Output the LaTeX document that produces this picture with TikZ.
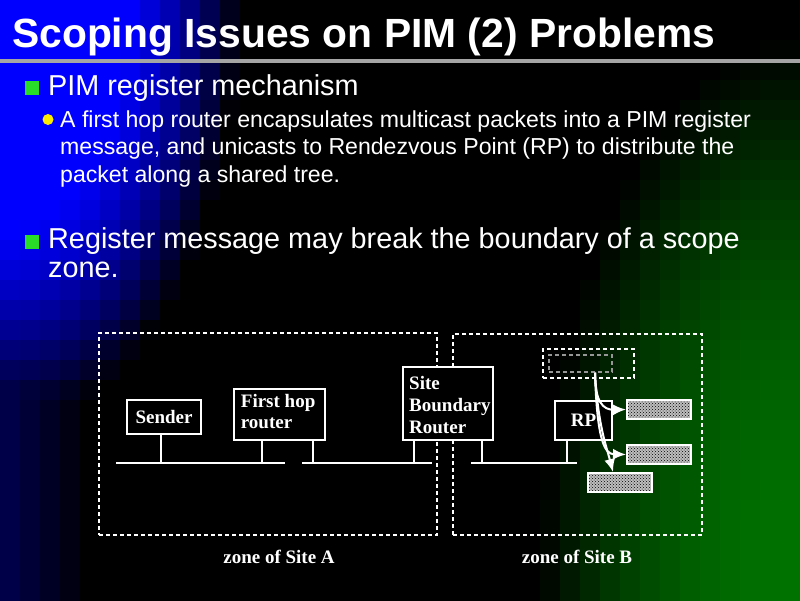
\documentclass[tikz,border=0pt]{standalone}
\usepackage{fontspec}
\setmainfont{Liberation Sans}
\newfontfamily\diagfont{Liberation Serif}
\usetikzlibrary{arrows.meta,patterns}
\definecolor{bulletgreen}{RGB}{40,220,40}
\definecolor{bulletyellow}{RGB}{250,235,0}
\definecolor{rulegray}{RGB}{165,165,165}
\definecolor{innergray}{RGB}{150,150,150}
\definecolor{hatchgray}{RGB}{190,190,190}
\begin{document}
\begin{tikzpicture}[x=1pt,y=-1pt,
  titletext/.style={anchor=base west,inner sep=0pt,text=white,font=\bfseries\fontsize{40.8}{41}\selectfont},
  lvlone/.style={anchor=base west,inner sep=0pt,text=white,font=\fontsize{28.8}{29}\selectfont},
  lvltwo/.style={anchor=base west,inner sep=0pt,text=white,font=\fontsize{23.1}{23}\selectfont},
  sqbullet/.style={fill=bulletgreen,minimum size=14pt,inner sep=0pt},
  dotbullet/.style={circle,fill=bulletyellow,minimum size=11pt,inner sep=0pt},
  zonebox/.style={draw=white,line width=2pt,dash pattern=on 4pt off 3pt,inner sep=0pt},
  pktbox/.style={draw=innergray,line width=1.5pt,dash pattern=on 4pt off 3pt,inner sep=0pt},
  devbox/.style={draw=white,line width=2pt,fill=black,inner sep=0pt,text=white,font=\diagfont\bfseries\fontsize{19}{21}\selectfont},
  devtext/.style={anchor=base west,inner sep=0pt,text=white,font=\diagfont\bfseries\fontsize{19}{21}\selectfont},
  zonelabel/.style={anchor=base,inner sep=0pt,text=white,font=\diagfont\bfseries\fontsize{19}{21}\selectfont},
  lan/.style={draw=white,line width=2pt},
  hatchbox/.style={draw=white,line width=2pt,inner sep=0pt,minimum width=64pt,minimum height=19pt,
     preaction={fill=hatchgray},pattern=crosshatch dots,pattern color=black},
  regarrow/.style={draw=white,line width=2pt,-{Latex[length=13pt,width=11pt]}}
]
\useasboundingbox (0,0) rectangle (800,600);
% background
\fill[black] (0,0) rectangle (800,600);
\foreach \i in {0,...,39}{
  \foreach \j in {0,...,29}{
    \pgfmathsetmacro\cx{\i*20+10}
    \pgfmathsetmacro\cy{\j*20+10}
    \pgfmathsetmacro\bb{min(1,max(0.32*max(0,1-\cx/90),1.4*(1-(\cx/240)^2-(\cy/430)^2)))}
    \pgfmathsetmacro\gg{0.45*max(0,1-((800-\cx)/260)^2-((600-\cy)/560)^2)}
    \definecolor{cellc}{rgb}{0,\gg,\bb}
    \fill[cellc] (\i*20,\j*20) rectangle ++(20.6,20.6);
  }
}
% title and rule
\node[titletext] (title) at (12,47) {Scoping Issues on PIM (2) Problems};
\coordinate (ruleL) at (0,61);
\coordinate (ruleR) at (800,61);
\draw[rulegray,line width=3.5pt] (ruleL) -- (ruleR);
% bullets
\node[sqbullet] (sq1) at (32,88) {};
\node[lvlone] (t1) at (48,95) {PIM register mechanism};
\node[dotbullet] (dot1) at (48,119.5) {};
\node[lvltwo] (t2a) at (60,127) {A first hop router encapsulates multicast packets into a PIM register};
\node[lvltwo] (t2b) at (60,154.5) {message, and unicasts to Rendezvous Point (RP) to distribute the};
\node[lvltwo] (t2c) at (60,182) {packet along a shared tree.};
\node[sqbullet] (sq2) at (32,241.5) {};
\node[lvlone] (t3a) at (48,248) {Register message may break the boundary of a scope};
\node[lvlone] (t3b) at (48,277) {zone.};
% zones
\node[zonebox,minimum width=338pt,minimum height=202pt] (zoneA) at (268,434) {};
\node[zonebox,minimum width=249pt,minimum height=201pt] (zoneB) at (577.5,434.5) {};
\node[zonelabel] (zlA) at (279,563) {zone of Site A};
\node[zonelabel] (zlB) at (577,563) {zone of Site B};
% packet (dashed) boxes
\node[zonebox,minimum width=91pt,minimum height=29pt] (pktout) at (588.5,363.5) {};
\node[pktbox,minimum width=63pt,minimum height=17pt] (pkt) at (580.5,363.5) {};
% devices
\node[devbox,minimum width=74pt,minimum height=34pt] (sender) at (164,417) {Sender};
\node[devbox,minimum width=91pt,minimum height=51pt] (fhr) at (279.5,414.5) {};
\node[devtext] (fhrA) at (240.7,407) {First hop};
\node[devtext] (fhrB) at (240.7,428) {router};
\node[devbox,minimum width=90pt,minimum height=73pt] (sbr) at (448,403.5) {};
\node[devtext] (sbrA) at (409,389) {Site};
\node[devtext] (sbrB) at (409,411) {Boundary};
\node[devtext] (sbrC) at (409,433) {Router};
\node[devbox,minimum width=57pt,minimum height=39pt] (rp) at (583.5,420.5) {RP};
% LANs
\coordinate (l1a) at (116,463); \coordinate (l1b) at (285,463);
\coordinate (l2a) at (302,463); \coordinate (l2b) at (432,463);
\coordinate (l3a) at (471,463); \coordinate (l3b) at (577,463);
\draw[lan] (l1a) -- (l1b);
\draw[lan] (l2a) -- (l2b);
\draw[lan] (l3a) -- (l3b);
\coordinate (d1) at (161,463);
\coordinate (d2) at (262,463);
\coordinate (d3) at (313,463);
\coordinate (d4) at (414,463);
\coordinate (d5) at (482,463);
\coordinate (d6) at (567,463);
\draw[lan] (sender.south -| d1) -- (d1);
\draw[lan] (fhr.south -| d2) -- (d2);
\draw[lan] (fhr.south -| d3) -- (d3);
\draw[lan] (sbr.south -| d4) -- (d4);
\draw[lan] (sbr.south -| d5) -- (d5);
\draw[lan] (rp.south -| d6) -- (d6);
% receivers
\node[hatchbox] (hb1) at (659,409.5) {};
\node[hatchbox] (hb2) at (659,454.5) {};
\node[hatchbox] (hb3) at (620,482.5) {};
% register arrows
\coordinate (src) at ([xshift=14.5pt]pkt.south);
\draw[regarrow] (src) .. controls (595,402) and (603,410) .. (hb1.west);
\draw[regarrow] (src) .. controls (597,442) and (605,454) .. (hb2.west);
\draw[regarrow] (src) .. controls (598,425) and (606,445) .. ([xshift=-7pt]hb3.north);
\end{tikzpicture}
\end{document}
